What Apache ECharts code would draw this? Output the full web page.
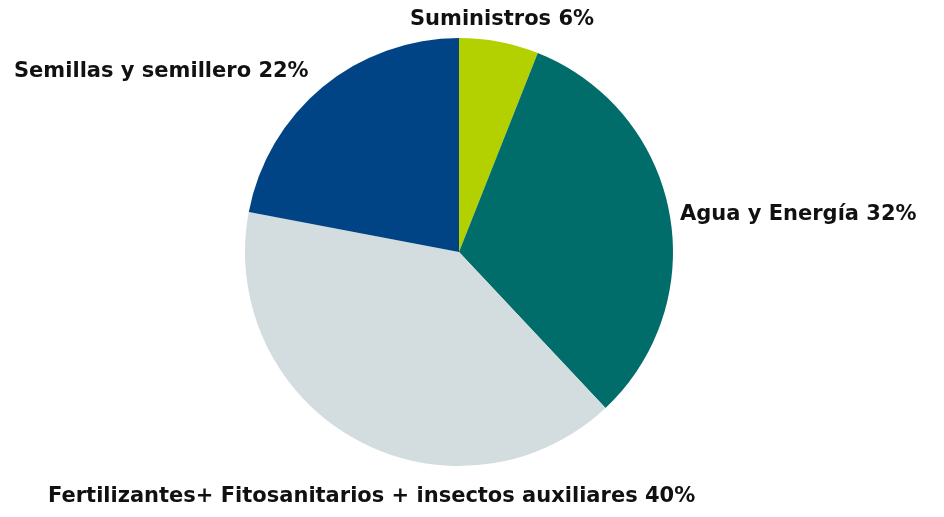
<!DOCTYPE html>
<html>
<head>
<meta charset="utf-8">
<script src="https://cdn.jsdelivr.net/npm/echarts@6/dist/echarts.min.js"></script>
<style>
  html, body { margin: 0; padding: 0; background: #fff; }
  #main { width: 944px; height: 517px; }
</style>
</head>
<body>
<div id="main"></div>
<script>
// categories & values (percent), clockwise from 12 o'clock
var categories = ['Suministros', 'Agua y Energía', 'Fertilizantes+ Fitosanitarios + insectos auxiliares', 'Semillas y semillero'];
var values = [6, 32, 40, 22];
var colors = ['#b3d100', '#006d6a', '#d3dcdf', '#004485'];

// where each label sits (px)
var labelSpots = [
    {x: 502, y: 20, align: 'center'},
    {x: 680, y: 215, align: 'left'},
    {x: 48, y: 497, align: 'left'},
    {x: 14, y: 72, align: 'left'}
];

var data = [];
for (var i = 0; i < categories.length; i++) {
    data.push({ name: categories[i], value: values[i], itemStyle: { color: colors[i] } });
}

var option = {
    animation: false,
    series: [
        {
            type: 'pie',
            center: [459, 252],
            radius: 214,
            startAngle: 90,
            clockwise: true,
            data: data,
            itemStyle: { borderWidth: 0 },
            label: {
                show: true,
                position: 'outside',
                formatter: '{b} {c}%',
                color: '#111',
                fontFamily: 'DejaVu Sans',
                fontWeight: 'bold',
                fontSize: 21,
                overflow: 'none'
            },
            labelLine: { show: false },
            labelLayout: function (params) {
                var s = labelSpots[params.dataIndex];
                return { x: s.x, y: s.y, align: s.align, verticalAlign: 'middle' };
            },
            emphasis: { disabled: true }
        }
    ]
};

var myChart = echarts.init(document.getElementById('main'));
myChart.setOption(option);
</script>
</body>
</html>
